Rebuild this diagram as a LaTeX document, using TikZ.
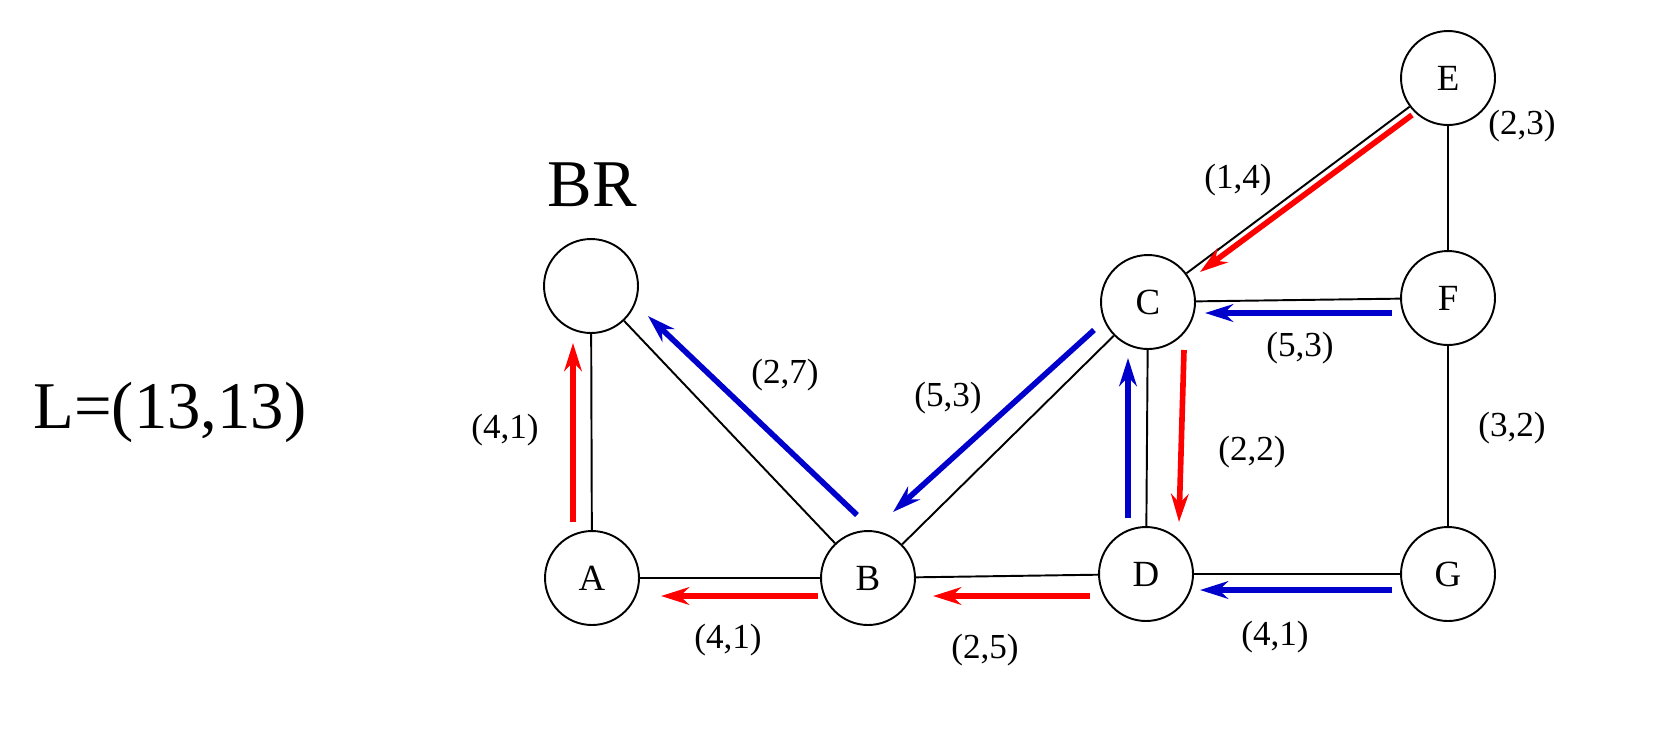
\documentclass[tikz,border=0pt]{standalone}
\usepackage{fontspec}
\setmainfont{Liberation Serif}
\usetikzlibrary{arrows.meta}
\begin{document}
\begin{tikzpicture}[x=0.02cm,y=-0.02cm,
 nd/.style={circle,draw,line width=1.1pt,minimum size=0.94cm*2,inner sep=0pt,font=\fontsize{21}{24}\selectfont},
 ed/.style={line width=1.1pt},
 lb/.style={font=\fontsize{20}{24}\selectfont},
 ar/.style={line width=3.2pt,-{Stealth[length=16pt,width=10pt]}},
 rd/.style={ar,red},bl/.style={ar,blue!80!black}]
\useasboundingbox (0,0) rectangle (1679,728);
\node[nd] (BR) at (591,286) {};
\node[nd] (A) at (592,578) {A};
\node[nd] (B) at (868,578) {B};
\node[nd] (C) at (1148,302) {C};
\node[nd] (D) at (1146,574) {D};
\node[nd] (E) at (1448,78) {E};
\node[nd] (F) at (1448,298) {F};
\node[nd] (G) at (1448,574) {G};
\node[font=\fontsize{38}{44}\selectfont] (brl) at (592,185) {BR};
\node[font=\fontsize{38}{44}\selectfont] (L) at (170,412) {L=(13,13)};
\draw[ed] (BR)--(A); \draw[ed] (BR)--(B); \draw[ed] (B)--(A);
\draw[ed] (B)--(C); \draw[ed] (C)--(D); \draw[ed] (D)--(B);
\draw[ed] (C)--(E); \draw[ed] (C)--(F); \draw[ed] (E)--(F);
\draw[ed] (F)--(G); \draw[ed] (G)--(D);
\coordinate (a1) at (573,522); \coordinate (a2) at (573,343);
\draw[rd] (a1)--(a2);
\coordinate (b1) at (857,515); \coordinate (b2) at (648,316);
\draw[bl] (b1)--(b2);
\coordinate (e1) at (1412,115); \coordinate (e2) at (1200,272);
\draw[rd] (e1)--(e2);
\coordinate (c1) at (1094,330); \coordinate (c2) at (893,512);
\draw[bl] (c1)--(c2);
\coordinate (f1) at (1392,313); \coordinate (f2) at (1205,313);
\draw[bl] (f1)--(f2);
\coordinate (d1) at (1128,518); \coordinate (d2) at (1128,358);
\draw[bl] (d1)--(d2);
\coordinate (g1) at (1184,350); \coordinate (g2) at (1179,522);
\draw[rd] (g1)--(g2);
\coordinate (h1) at (818,596); \coordinate (h2) at (661,596);
\draw[rd] (h1)--(h2);
\coordinate (i1) at (1090,596); \coordinate (i2) at (933,596);
\draw[rd] (i1)--(i2);
\coordinate (j1) at (1392,590); \coordinate (j2) at (1200,590);
\draw[bl] (j1)--(j2);
\node[lb] (l1) at (785,375) {(2,7)};
\node[lb] (l2) at (505,430) {(4,1)};
\node[lb] (l3) at (948,398) {(5,3)};
\node[lb] (l4) at (1238,180) {(1,4)};
\node[lb] (l5) at (1522,126) {(2,3)};
\node[lb] (l6) at (1300,348) {(5,3)};
\node[lb] (l7) at (1252,452) {(2,2)};
\node[lb] (l8) at (1512,428) {(3,2)};
\node[lb] (l9) at (728,640) {(4,1)};
\node[lb] (l10) at (985,650) {(2,5)};
\node[lb] (l11) at (1275,637) {(4,1)};
\end{tikzpicture}
\end{document}
